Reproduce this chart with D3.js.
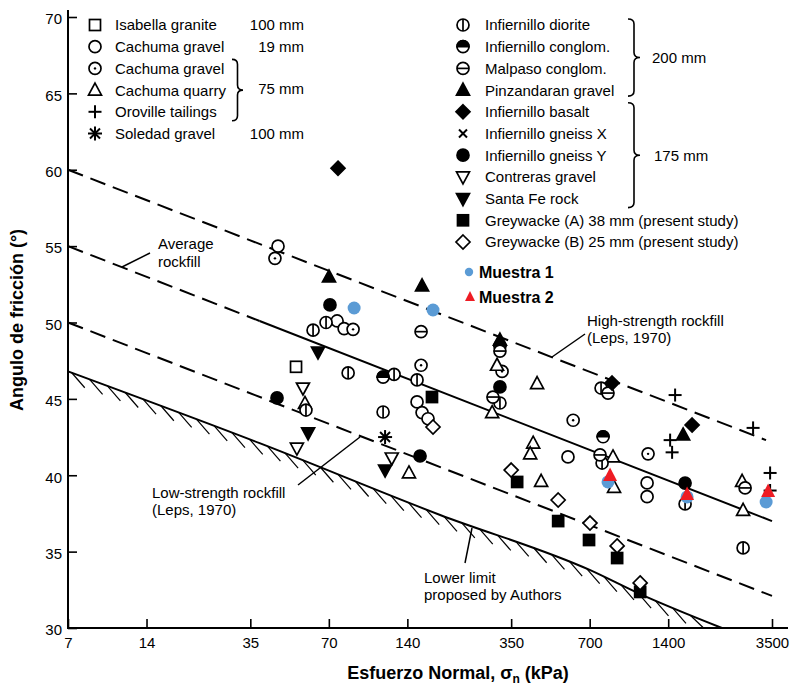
<!DOCTYPE html>
<html>
<head>
<meta charset="utf-8">
<script src="https://cdn.jsdelivr.net/npm/d3@7"></script>
<style>
  body { margin: 0; background: #fff; }
  svg { display: block; font-family: "Liberation Sans", Arial, sans-serif; }
</style>
</head>
<body>
<svg width="790" height="690"></svg>
<script>
// Ejes
const xTicks = [7, 14, 35, 70, 140, 350, 700, 1400, 3500];
const yTicks = [30, 35, 40, 45, 50, 55, 60, 65, 70];

// Series: [esfuerzo normal (kPa), angulo de friccion (°)]
const isabellaGranite = [[52.4, 47.1]];
const cachumaGravel19 = [[44.7, 55.0], [75.3, 50.1], [80.1, 49.6], [152.5, 44.8], [159.4, 44.1],
  [168, 43.7], [578, 41.2], [1162, 39.5], [1162, 38.6]];
const cachumaGravel75 = [[43.5, 54.2], [86.7, 49.55], [158, 47.2], [323, 46.8], [605, 43.6], [1172, 41.4]];
const cachumaQuarry = [[56.7, 44.7], [142, 40.15], [309, 47.2], [296, 44.1], [440, 46.0], [425, 42.1],
  [414, 41.4], [456, 39.6], [860, 41.2], [868, 39.2], [2688, 39.6], [2712, 37.7]];
const orovilleTailings = [[1488, 45.25], [1424, 42.3], [1449, 41.5], [2962, 43.1], [3442, 40.15], [3442, 39.0]];
const soledadGravel = [[115, 42.5]];
const infiernilloDiorite = [[68.3, 50.0], [60.9, 49.5], [83, 46.7], [124.5, 46.6], [152.5, 46.24], [57.2, 44.27],
  [113, 44.14], [317, 44.73], [774, 45.71], [781, 40.8], [1625, 38.12], [2712, 35.24]];
const infiernilloConglom = [[113, 46.43], [317, 48.46], [788, 42.52]];
const malpasoConglom = [[158, 49.4], [317, 48.13], [298, 45.12], [823, 45.38], [767, 41.33], [2760, 39.17]];
const pinzandaranGravel = [[70.1, 52.98], [159.4, 52.4], [317, 48.85], [1597, 42.64]];
const infiernilloBasalt = [[75.9, 60.1], [853, 46.04], [1729, 43.29]];
const infiernilloGneissX = [];
const infiernilloGneissY = [[70.7, 51.15], [44.3, 45.06], [156.6, 41.26], [317, 45.78], [1625, 39.49]];
const contrerasGravel = [[55.7, 45.71], [52.8, 41.78], [122, 41.13]];
const santaFeRock = [[63.6, 48.07], [58.3, 42.77], [115, 40.34]];
const greywackeA = [[174, 45.12], [369, 39.56], [530, 37.0], [696, 35.76], [892, 34.58], [1093, 32.36]];
const greywackeB = [[175.6, 43.16], [350, 40.34], [530, 38.38], [702, 36.87], [892, 35.37], [1093, 32.95]];
const muestra1 = [[87.5, 50.95], [175.6, 50.82], [823, 39.56], [1654, 38.58], [3323, 38.25]];
const muestra2 = [[838, 39.95], [1654, 38.71], [3382, 38.9]];

// Rectas de Leps (1970) y limite inferior
const highStrength = [[7, 60], [3320, 42.3]];
const averageDashed = [[7, 55], [38, 50.1]];
const averageSolid = [[38, 50.1], [3500, 37.0]];
const lowStrength = [[7, 50], [3500, 32.1]];
const lowerLimit = [[7, 46.8], [38, 42.1], [187, 37.4], [700, 33.8], [1100, 32.2], [2250, 30]];

const series = [
  {name: "Isabella granite", sym: "sqOpen", data: isabellaGranite},
  {name: "Cachuma gravel", sym: "circOpen", data: cachumaGravel19},
  {name: "Cachuma gravel", sym: "circDot", data: cachumaGravel75},
  {name: "Cachuma quarry", sym: "triOpen", data: cachumaQuarry},
  {name: "Oroville tailings", sym: "plus", data: orovilleTailings},
  {name: "Soledad gravel", sym: "star", data: soledadGravel},
  {name: "Infiernillo diorite", sym: "circV", data: infiernilloDiorite},
  {name: "Infiernillo conglom.", sym: "circHalf", data: infiernilloConglom},
  {name: "Malpaso conglom.", sym: "circH", data: malpasoConglom},
  {name: "Pinzandaran gravel", sym: "triFill", data: pinzandaranGravel},
  {name: "Infiernillo basalt", sym: "diaFill", data: infiernilloBasalt},
  {name: "Infiernillo gneiss X", sym: "cross", data: infiernilloGneissX},
  {name: "Infiernillo gneiss Y", sym: "circFill", data: infiernilloGneissY},
  {name: "Contreras gravel", sym: "triDownOpen", data: contrerasGravel},
  {name: "Santa Fe rock", sym: "triDownFill", data: santaFeRock},
  {name: "Greywacke (A) 38 mm (present study)", sym: "sqFill", data: greywackeA},
  {name: "Greywacke (B) 25 mm (present study)", sym: "diaOpen", data: greywackeB}
];
const sizesLeft = ["100 mm", "19 mm", "", "", "", "100 mm"];

const svg = d3.select("svg");
const x = d3.scaleLog().domain([7, 3500]).range([68, 772]);
const y = d3.scaleLinear().domain([30, 70]).range([628, 17]);

// Dibuja un simbolo centrado en (cx, cy)
function drawSymbol(parent, sym, cx, cy) {
  const g = parent.append("g").attr("transform", `translate(${cx},${cy})`)
    .attr("stroke", "#000").attr("stroke-width", 1.7).attr("fill", "#fff");
  const r = 6;
  switch (sym) {
    case "sqOpen": g.append("rect").attr("x", -5.5).attr("y", -5.5).attr("width", 11).attr("height", 11); break;
    case "sqFill": g.append("rect").attr("x", -5.5).attr("y", -5.5).attr("width", 11).attr("height", 11).attr("fill", "#000"); break;
    case "circOpen": g.append("circle").attr("r", r); break;
    case "circFill": g.append("circle").attr("r", r).attr("fill", "#000"); break;
    case "circDot":
      g.append("circle").attr("r", r);
      g.append("circle").attr("r", 1.2).attr("fill", "#000").attr("stroke", "none");
      break;
    case "circV":
      g.append("circle").attr("r", r);
      g.append("line").attr("y1", -r).attr("y2", r);
      break;
    case "circH":
      g.append("circle").attr("r", r);
      g.append("line").attr("x1", -r).attr("x2", r);
      break;
    case "circHalf":
      g.append("circle").attr("r", r);
      g.append("path").attr("d", `M${-r},0 A${r},${r} 0 0 1 ${r},0 Z`).attr("fill", "#000");
      break;
    case "triOpen": g.append("path").attr("d", "M0,-7 L6.5,5 L-6.5,5 Z"); break;
    case "triFill": g.append("path").attr("d", "M0,-7 L6.5,5 L-6.5,5 Z").attr("fill", "#000"); break;
    case "triDownOpen": g.append("path").attr("d", "M0,7 L6.5,-5 L-6.5,-5 Z"); break;
    case "triDownFill": g.append("path").attr("d", "M0,7 L6.5,-5 L-6.5,-5 Z").attr("fill", "#000"); break;
    case "diaOpen": g.append("path").attr("d", "M0,-7 L7,0 L0,7 L-7,0 Z"); break;
    case "diaFill": g.append("path").attr("d", "M0,-7 L7,0 L0,7 L-7,0 Z").attr("fill", "#000"); break;
    case "plus":
      g.attr("stroke-width", 2);
      g.append("line").attr("x1", -6.5).attr("x2", 6.5);
      g.append("line").attr("y1", -6.5).attr("y2", 6.5);
      break;
    case "cross":
      g.attr("stroke-width", 2);
      g.append("line").attr("x1", -4).attr("y1", -4).attr("x2", 4).attr("y2", 4);
      g.append("line").attr("x1", -4).attr("y1", 4).attr("x2", 4).attr("y2", -4);
      break;
    case "star":
      g.attr("stroke-width", 2);
      g.append("line").attr("y1", -7).attr("y2", 7);
      g.append("line").attr("x1", -7).attr("x2", 7);
      g.append("line").attr("x1", -5).attr("y1", -5).attr("x2", 5).attr("y2", 5);
      g.append("line").attr("x1", -5).attr("y1", 5).attr("x2", 5).attr("y2", -5);
      break;
    case "m1": g.append("circle").attr("r", 6.5).attr("fill", "#5b9bd5").attr("stroke", "none"); break;
    case "m1s": g.append("circle").attr("r", 4.2).attr("fill", "#5b9bd5").attr("stroke", "none"); break;
    case "m2": g.append("path").attr("d", "M0,-8.5 L7,5 L-7,5 Z").attr("fill", "#ee1c24").attr("stroke", "none"); break;
    case "m2s": g.append("path").attr("d", "M0,-6 L5,4 L-5,4 Z").attr("fill", "#ee1c24").attr("stroke", "none"); break;
  }
}

// Ejes
const axX = svg.append("g").attr("transform", "translate(0,628)")
  .call(d3.axisBottom(x).tickValues(xTicks).tickFormat(d3.format("d"))
    .tickSizeInner(-9).tickSizeOuter(0).tickPadding(9));
const axY = svg.append("g").attr("transform", "translate(68,0)")
  .call(d3.axisLeft(y).tickValues(yTicks).tickSizeInner(-9).tickSizeOuter(0).tickPadding(6));
[axX, axY].forEach(a => {
  a.select(".domain").remove();
  a.selectAll(".tick line").attr("stroke", "#000").attr("stroke-width", 1.6);
  a.selectAll("text").attr("font-size", 15).attr("fill", "#000").attr("font-family", "Liberation Sans, Arial, sans-serif");
});
axY.selectAll("text").attr("dy", "0.45em");
svg.append("line").attr("x1", 68).attr("y1", 10).attr("x2", 68).attr("y2", 629)
  .attr("stroke", "#000").attr("stroke-width", 2);
svg.append("line").attr("x1", 67).attr("y1", 628).attr("x2", 788).attr("y2", 628)
  .attr("stroke", "#000").attr("stroke-width", 2);

// Rectas
const line = d3.line().x(d => x(d[0])).y(d => y(d[1]));
function drawLine(data, dashed) {
  svg.append("path").datum(data).attr("d", line)
    .attr("fill", "none").attr("stroke", "#000").attr("stroke-width", 2)
    .attr("stroke-dasharray", dashed ? "16,8" : null);
}
drawLine(highStrength, true);
drawLine(averageDashed, true);
drawLine(averageSolid, false);
drawLine(lowStrength, true);

// Limite inferior con rayado
const llPath = svg.append("path").datum(lowerLimit)
  .attr("d", d3.line().x(d => x(d[0])).y(d => y(d[1])).curve(d3.curveMonotoneX))
  .attr("fill", "none").attr("stroke", "#000").attr("stroke-width", 2);
const node = llPath.node();
const total = node.getTotalLength();
for (let s = 4; s < total - 20; s += 19) {
  const p = node.getPointAtLength(s);
  svg.append("line").attr("x1", p.x).attr("y1", p.y)
    .attr("x2", p.x + 13).attr("y2", Math.min(p.y + 15, 628))
    .attr("stroke", "#000").attr("stroke-width", 1.2);
}

// Textos de las rectas
function label(lines, tx, ty, step) {
  const t = svg.append("text").attr("font-size", 15).attr("fill", "#000");
  lines.forEach((l, i) => t.append("tspan").attr("x", tx).attr("y", ty + i * step).text(l));
}
function pointer(x1, y1, x2, y2) {
  svg.append("line").attr("x1", x1).attr("y1", y1).attr("x2", x2).attr("y2", y2)
    .attr("stroke", "#000").attr("stroke-width", 1.5);
}
label(["Average", "rockfill"], 158, 249, 18);
pointer(150, 253, 122, 267);
label(["High-strength rockfill", "(Leps, 1970)"], 587, 326, 17);
pointer(585, 334, 552, 357);
label(["Low-strength rockfill", "(Leps, 1970)"], 152, 498, 17);
pointer(298, 485, 360, 437);
label(["Lower limit", "proposed by Authors"], 424, 583, 17);
pointer(465, 563, 472, 528);

// Puntos
series.forEach(s => s.data.forEach(d => drawSymbol(svg, s.sym, x(d[0]), y(d[1]))));
muestra1.forEach(d => drawSymbol(svg, "m1", x(d[0]), y(d[1])));
muestra2.forEach(d => drawSymbol(svg, "m2", x(d[0]), y(d[1])));

// Leyenda
const rowY = i => 25 + i * 21.7;
series.slice(0, 6).forEach((s, i) => {
  drawSymbol(svg, s.sym, 95, rowY(i));
  svg.append("text").attr("x", 115).attr("y", rowY(i)).attr("dy", "0.36em")
    .attr("font-size", 15).text(s.name);
  if (sizesLeft[i]) svg.append("text").attr("x", 304).attr("y", rowY(i)).attr("dy", "0.36em")
    .attr("text-anchor", "end").attr("font-size", 15).text(sizesLeft[i]);
});
series.slice(6).forEach((s, i) => {
  drawSymbol(svg, s.sym, 463, rowY(i));
  svg.append("text").attr("x", 485).attr("y", rowY(i)).attr("dy", "0.36em")
    .attr("font-size", 15).text(s.name);
});

// Llaves
function brace(x0, y0, y1, w) {
  const xm = x0 + w / 2, ym = (y0 + y1) / 2, r = 5;
  svg.append("path")
    .attr("d", `M${x0},${y0} Q${xm},${y0} ${xm},${y0 + r} L${xm},${ym - r} Q${xm},${ym} ${x0 + w},${ym}` +
      ` Q${xm},${ym} ${xm},${ym + r} L${xm},${y1 - r} Q${xm},${y1} ${x0},${y1}`)
    .attr("fill", "none").attr("stroke", "#000").attr("stroke-width", 1.6);
}
brace(232, rowY(2) - 9, rowY(4) + 9, 11);
svg.append("text").attr("x", 304).attr("y", rowY(3) - 2).attr("dy", "0.36em")
  .attr("text-anchor", "end").attr("font-size", 15).text("75 mm");
brace(628, rowY(0) - 6, rowY(3) + 6, 12);
svg.append("text").attr("x", 652).attr("y", (rowY(0) + rowY(3)) / 2).attr("dy", "0.36em")
  .attr("font-size", 15).text("200 mm");
brace(628, rowY(4) - 9, rowY(8) + 9, 12);
svg.append("text").attr("x", 654).attr("y", rowY(6)).attr("dy", "0.36em")
  .attr("font-size", 15).text("175 mm");

drawSymbol(svg, "m1s", 469, 272);
svg.append("text").attr("x", 479).attr("y", 272).attr("dy", "0.36em")
  .attr("font-size", 16).attr("font-weight", "bold").text("Muestra 1");
drawSymbol(svg, "m2s", 470, 297);
svg.append("text").attr("x", 479).attr("y", 297).attr("dy", "0.36em")
  .attr("font-size", 16).attr("font-weight", "bold").text("Muestra 2");

// Titulos de ejes
svg.append("text").attr("transform", "translate(23,320) rotate(-90)")
  .attr("text-anchor", "middle").attr("font-size", 18).attr("font-weight", "bold")
  .text("Angulo de fricción (°)");
const xt = svg.append("text").attr("x", 458).attr("y", 679)
  .attr("text-anchor", "middle").attr("font-size", 18).attr("font-weight", "bold");
xt.append("tspan").text("Esfuerzo Normal, σ");
xt.append("tspan").attr("font-size", 12).attr("dy", 4).text("n");
xt.append("tspan").attr("dy", -4).text(" (kPa)");
</script>
</body>
</html>
